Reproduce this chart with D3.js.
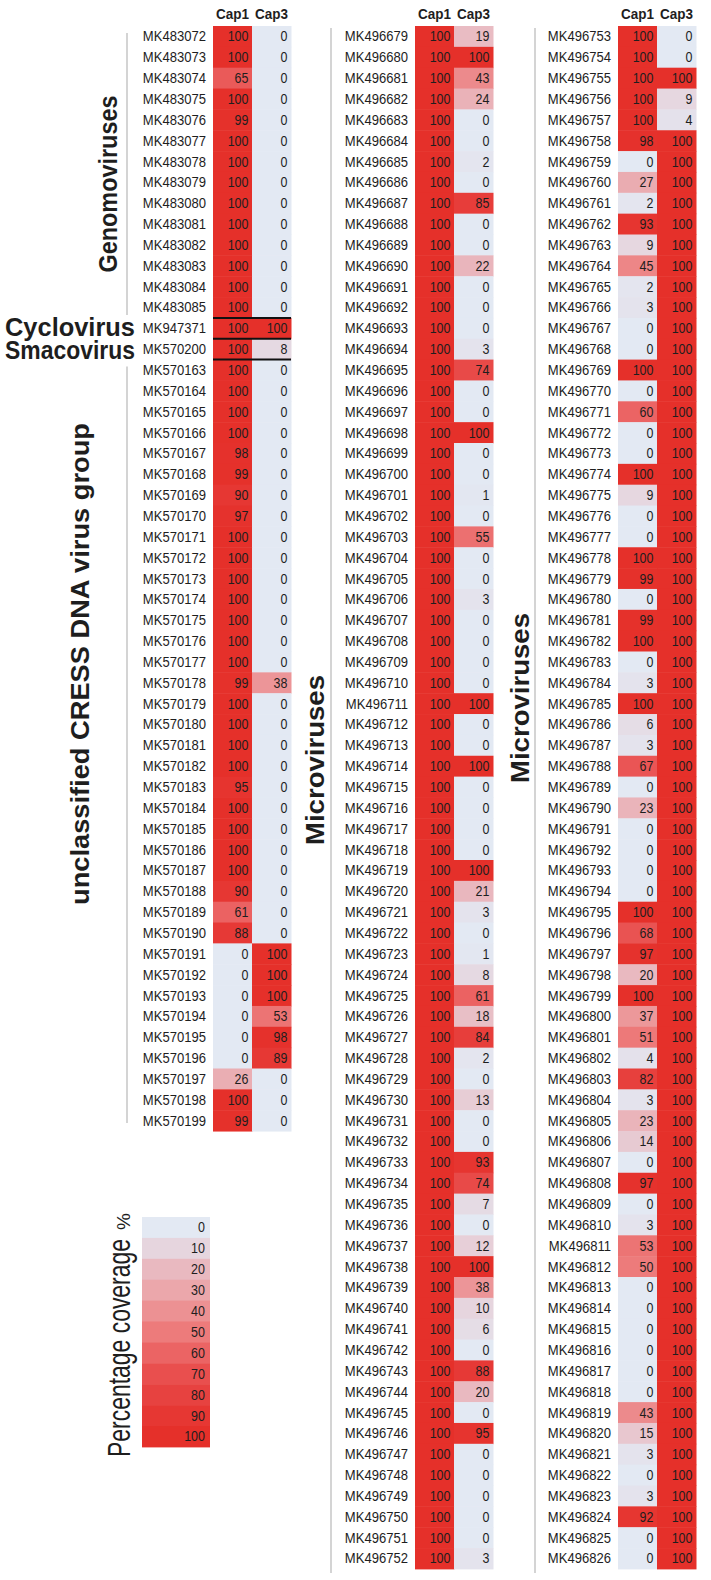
<!DOCTYPE html>
<html>
<head>
<meta charset="utf-8">
<script src="https://cdn.jsdelivr.net/npm/d3@7"></script>
<style>
  body { margin: 0; background: #fff; }
  text { font-family: "Liberation Sans", Arial, sans-serif; fill: #1e1e1e; }
</style>
</head>
<body>
<div id="heatmap"></div>
<script>
// ---- data ----
var caps = ["Cap1", "Cap3"];

var ids1 = ["MK483072","MK483073","MK483074","MK483075","MK483076","MK483077","MK483078","MK483079",
  "MK483080","MK483081","MK483082","MK483083","MK483084","MK483085","MK947371","MK570200",
  "MK570163","MK570164","MK570165","MK570166","MK570167","MK570168","MK570169","MK570170",
  "MK570171","MK570172","MK570173","MK570174","MK570175","MK570176","MK570177","MK570178",
  "MK570179","MK570180","MK570181","MK570182","MK570183","MK570184","MK570185","MK570186",
  "MK570187","MK570188","MK570189","MK570190","MK570191","MK570192","MK570193","MK570194",
  "MK570195","MK570196","MK570197","MK570198","MK570199"];
var cap1_1 = [100,100,65,100,99,100,100,100,100,100,100,100,100,100,100,100,
  100,100,100,100,98,99,90,97,100,100,100,100,100,100,100,99,
  100,100,100,100,95,100,100,100,100,90,61,88,0,0,0,0,0,0,26,100,99];
var cap3_1 = [0,0,0,0,0,0,0,0,0,0,0,0,0,0,100,8,
  0,0,0,0,0,0,0,0,0,0,0,0,0,0,0,38,
  0,0,0,0,0,0,0,0,0,0,0,0,100,100,100,53,98,89,0,0,0];

var ids2 = ["MK496679","MK496680","MK496681","MK496682","MK496683","MK496684","MK496685","MK496686",
  "MK496687","MK496688","MK496689","MK496690","MK496691","MK496692","MK496693","MK496694",
  "MK496695","MK496696","MK496697","MK496698","MK496699","MK496700","MK496701","MK496702",
  "MK496703","MK496704","MK496705","MK496706","MK496707","MK496708","MK496709","MK496710",
  "MK496711","MK496712","MK496713","MK496714","MK496715","MK496716","MK496717","MK496718",
  "MK496719","MK496720","MK496721","MK496722","MK496723","MK496724","MK496725","MK496726",
  "MK496727","MK496728","MK496729","MK496730","MK496731","MK496732","MK496733","MK496734",
  "MK496735","MK496736","MK496737","MK496738","MK496739","MK496740","MK496741","MK496742",
  "MK496743","MK496744","MK496745","MK496746","MK496747","MK496748","MK496749","MK496750",
  "MK496751","MK496752"];
var cap1_2 = [100,100,100,100,100,100,100,100,100,100,100,100,100,100,100,100,
  100,100,100,100,100,100,100,100,100,100,100,100,100,100,100,100,
  100,100,100,100,100,100,100,100,100,100,100,100,100,100,100,100,
  100,100,100,100,100,100,100,100,100,100,100,100,100,100,100,100,
  100,100,100,100,100,100,100,100,100,100];
var cap3_2 = [19,100,43,24,0,0,2,0,85,0,0,22,0,0,0,3,
  74,0,0,100,0,0,1,0,55,0,0,3,0,0,0,0,
  100,0,0,100,0,0,0,0,100,21,3,0,1,8,61,18,
  84,2,0,13,0,0,93,74,7,0,12,100,38,10,6,0,
  88,20,0,95,0,0,0,0,0,3];

var ids3 = ["MK496753","MK496754","MK496755","MK496756","MK496757","MK496758","MK496759","MK496760",
  "MK496761","MK496762","MK496763","MK496764","MK496765","MK496766","MK496767","MK496768",
  "MK496769","MK496770","MK496771","MK496772","MK496773","MK496774","MK496775","MK496776",
  "MK496777","MK496778","MK496779","MK496780","MK496781","MK496782","MK496783","MK496784",
  "MK496785","MK496786","MK496787","MK496788","MK496789","MK496790","MK496791","MK496792",
  "MK496793","MK496794","MK496795","MK496796","MK496797","MK496798","MK496799","MK496800",
  "MK496801","MK496802","MK496803","MK496804","MK496805","MK496806","MK496807","MK496808",
  "MK496809","MK496810","MK496811","MK496812","MK496813","MK496814","MK496815","MK496816",
  "MK496817","MK496818","MK496819","MK496820","MK496821","MK496822","MK496823","MK496824",
  "MK496825","MK496826"];
var cap1_3 = [100,100,100,100,100,98,0,27,2,93,9,45,2,3,0,0,
  100,0,60,0,0,100,9,0,0,100,99,0,99,100,0,3,
  100,6,3,67,0,23,0,0,0,0,100,68,97,20,100,37,
  51,4,82,3,23,14,0,97,0,3,53,50,0,0,0,0,
  0,0,43,15,3,0,3,92,0,0];
var cap3_3 = [0,0,100,9,4,100,100,100,100,100,100,100,100,100,100,100,
  100,100,100,100,100,100,100,100,100,100,100,100,100,100,100,100,
  100,100,100,100,100,100,100,100,100,100,100,100,100,100,100,100,
  100,100,100,100,100,100,100,100,100,100,100,100,100,100,100,100,
  100,100,100,100,100,100,100,100,100,100];

var legendTicks = [0,10,20,30,40,50,60,70,80,90,100];
var legendColors = ["#e3e9f3","#e6d5de","#e9b9c0","#eba7ab","#ec9193","#ed7b7b",
  "#eb6464","#e94f4e","#e74240","#e63733","#e5302a"];

// ---- layout ----
var svgWidth = 711, svgHeight = 1580;
var rowH = 20.85, topY = 26, cellW = 39;

var svg = d3.select("#heatmap")
  .append("svg")
  .attr("width", svgWidth)
  .attr("height", svgHeight);

var color = d3.scaleLinear()
  .domain(legendTicks)
  .range(legendColors);

// squeeze text horizontally (the original uses a narrow face)
function squeeze(sel, k) {
  sel.each(function() {
    var w = this.getComputedTextLength();
    d3.select(this).attr("textLength", w * k).attr("lengthAdjust", "spacingAndGlyphs");
  });
}

var panels = [
  { ids: ids1, c1: cap1_1, c3: cap3_1, x0: 213 },
  { ids: ids2, c1: cap1_2, c3: cap3_2, x0: 415 },
  { ids: ids3, c1: cap1_3, c3: cap3_3, x0: 618 }
];

panels.forEach(function(p) {
  var n = p.ids.length;
  var rows = p.ids.map(function(id, i) {
    return { id: id, i: i, Cap1: p.c1[i], Cap3: p.c3[i] };
  });

  var y = d3.scaleBand()
    .domain(d3.range(n))
    .range([topY, topY + n * rowH]);

  var x = d3.scaleBand()
    .domain(caps)
    .range([p.x0, p.x0 + 2 * cellW]);

  p.y = y;
  var g = svg.append("g");

  // header
  g.selectAll(".hdr")
    .data(caps)
    .enter()
    .append("text")
    .attr("x", d => x(d) + x.bandwidth() / 2)
    .attr("y", 19)
    .attr("text-anchor", "middle")
    .attr("font-weight", "bold")
    .attr("font-size", 14.5)
    .text(d => d)
    .call(squeeze, 0.93);

  // row labels
  g.selectAll(".lbl")
    .data(rows)
    .enter()
    .append("text")
    .attr("x", p.x0 - 7)
    .attr("y", d => y(d.i) + y.bandwidth() / 2 + 5)
    .attr("text-anchor", "end")
    .attr("font-size", 14.5)
    .text(d => d.id)
    .call(squeeze, 0.9);

  // cells
  caps.forEach(function(c) {
    g.selectAll(".cell" + c)
      .data(rows)
      .enter()
      .append("rect")
      .attr("x", x(c))
      .attr("y", d => y(d.i))
      .attr("width", x.bandwidth() + 0.5)
      .attr("height", y.bandwidth() + 0.5)
      .attr("fill", d => color(d[c]));

    g.selectAll(".val" + c)
      .data(rows)
      .enter()
      .append("text")
      .attr("x", x(c) + x.bandwidth() - 3.5)
      .attr("y", d => y(d.i) + y.bandwidth() / 2 + 5)
      .attr("text-anchor", "end")
      .attr("font-size", 14.5)
      .text(d => d[c])
      .call(squeeze, 0.86);
  });
});

// separators round Cyclovirus / Smacovirus rows
var y1 = panels[0].y;
svg.selectAll(".sep")
  .data([14, 15, 16])
  .enter()
  .append("line")
  .attr("x1", panels[0].x0)
  .attr("x2", panels[0].x0 + 2 * cellW)
  .attr("y1", d => y1(d))
  .attr("y2", d => y1(d))
  .attr("stroke", "#111")
  .attr("stroke-width", 2);

// grey group brackets
var brackets = [
  { x: 127, y0: panels[0].y(0) + 7, y1: panels[0].y(14) - 3 },
  { x: 127, y0: panels[0].y(16) + 7, y1: panels[0].y(52) + rowH - 8 },
  { x: 331, y0: panels[1].y(0) + 2, y1: panels[1].y(73) + rowH + 4 },
  { x: 535, y0: panels[2].y(0) + 2, y1: panels[2].y(73) + rowH + 4 }
];
svg.selectAll(".brk")
  .data(brackets)
  .enter()
  .append("line")
  .attr("x1", d => d.x).attr("x2", d => d.x)
  .attr("y1", d => d.y0).attr("y2", d => d.y1)
  .attr("stroke", "#d4d4d4")
  .attr("stroke-width", 2);

// group names
var vertLabels = [
  { t: "Genomoviruses", x: 117, y: 184, len: 177, size: 26 },
  { t: "unclassified CRESS DNA virus group", x: 89, y: 664, len: 482, size: 26 },
  { t: "Microviruses", x: 324, y: 760, len: 170, size: 26 },
  { t: "Microviruses", x: 529, y: 698, len: 170, size: 26 }
];
svg.selectAll(".vl")
  .data(vertLabels)
  .enter()
  .append("text")
  .attr("transform", d => `translate(${d.x}, ${d.y}) rotate(-90)`)
  .attr("text-anchor", "middle")
  .attr("font-weight", "bold")
  .attr("font-size", d => d.size)
  .attr("textLength", d => d.len)
  .attr("lengthAdjust", "spacingAndGlyphs")
  .text(d => d.t);

svg.selectAll(".hl")
  .data([{ t: "Cyclovirus", y: 336 }, { t: "Smacovirus", y: 359 }])
  .enter()
  .append("text")
  .attr("x", 135)
  .attr("y", d => d.y)
  .attr("text-anchor", "end")
  .attr("font-weight", "bold")
  .attr("font-size", 25)
  .attr("textLength", 130)
  .attr("lengthAdjust", "spacingAndGlyphs")
  .text(d => d.t);

// ---- legend ----
var legY = d3.scaleBand()
  .domain(legendTicks)
  .range([1217, 1217 + legendTicks.length * 20.9]);

var leg = svg.append("g");
leg.selectAll("rect")
  .data(legendTicks)
  .enter()
  .append("rect")
  .attr("x", 142)
  .attr("y", d => legY(d))
  .attr("width", 68)
  .attr("height", legY.bandwidth() + 0.5)
  .attr("fill", d => color(d));

leg.selectAll("text")
  .data(legendTicks)
  .enter()
  .append("text")
  .attr("x", 205)
  .attr("y", d => legY(d) + legY.bandwidth() / 2 + 5)
  .attr("text-anchor", "end")
  .attr("font-size", 14.5)
  .text(d => d)
  .call(squeeze, 0.86);

var legTitle = svg.append("text")
  .attr("transform", "translate(130, 1457) rotate(-90)")
  .attr("text-anchor", "start")
  .attr("font-size", 31);
legTitle.append("tspan")
  .attr("textLength", 218)
  .attr("lengthAdjust", "spacingAndGlyphs")
  .text("Percentage coverage");
legTitle.append("tspan")
  .attr("dx", 9)
  .attr("font-size", 19)
  .text("%");
</script>
</body>
</html>
